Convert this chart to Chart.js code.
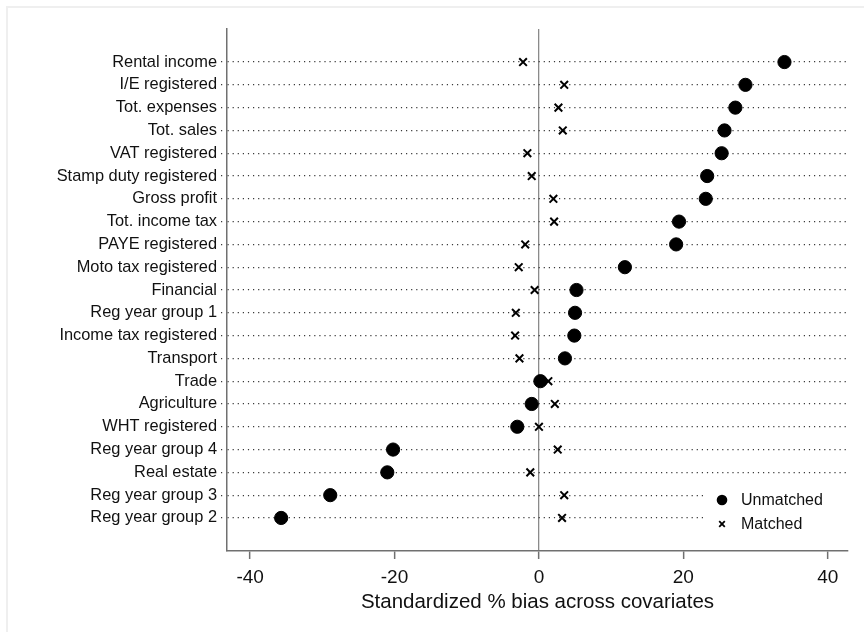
<!DOCTYPE html>
<html>
<head>
<meta charset="utf-8">
<script src="https://cdn.jsdelivr.net/npm/chart.js@4.4.1/dist/chart.umd.min.js"></script>
<style>
  html, body { margin: 0; padding: 0; background: #ffffff; }
  #wrap { position: relative; width: 864px; height: 632px; overflow: hidden; }
  #frame { position: absolute; left: 6px; top: 6px; width: 900px; height: 700px;
           border-left: 2px solid #efefef; border-top: 2px solid #efefef; pointer-events: none; }
  canvas { display: block; }
</style>
</head>
<body>
<div id="wrap">
  <canvas id="chart" width="864" height="632"></canvas>
  <div id="frame"></div>
</div>
<script>
// Covariates, top to bottom
const categories = [
  "Rental income", "I/E registered", "Tot. expenses", "Tot. sales",
  "VAT registered", "Stamp duty registered", "Gross profit", "Tot. income tax",
  "PAYE registered", "Moto tax registered", "Financial", "Reg year group 1",
  "Income tax registered", "Transport", "Trade", "Agriculture",
  "WHT registered", "Reg year group 4", "Real estate", "Reg year group 3",
  "Reg year group 2"
];

// Standardized % bias before matching
const unmatched = [34.0, 28.6, 27.2, 25.7, 25.3, 23.3, 23.1, 19.4, 19.0, 11.9,
                   5.2, 5.0, 4.9, 3.6, 0.2, -1.0, -3.0, -20.2, -21.0, -28.9, -35.7];

// Standardized % bias after matching
const matched = [-2.2, 3.5, 2.7, 3.3, -1.6, -1.0, 2.0, 2.1, -1.9, -2.8,
                 -0.6, -3.2, -3.3, -2.7, 1.3, 2.2, 0.0, 2.6, -1.2, 3.5, 3.2];

const xTicks = [-40, -20, 0, 20, 40];
const xTitle = "Standardized % bias across covariates";
const seriesNames = ["Unmatched", "Matched"];

const FONT = "'Liberation Sans', Arial, Helvetica, sans-serif";
const INK = "#111111";
const AXIS = "#707070";
const DOTS = [1.2, 3.9];

// Legend drawn inside the plot, in the lower right corner, on a white box
const insideLegend = {
  id: "insideLegend",
  afterDatasetsDraw(chart) {
    const { ctx, chartArea } = chart;
    const right = chartArea.right - 2;
    const bottom = chartArea.bottom - 14;
    const left = right - 140;
    const top = bottom - 50;
    ctx.save();
    ctx.fillStyle = "#ffffff";
    ctx.fillRect(left, top, right - left, bottom - top);
    const rows = [top + 13, top + 37];
    const mx = left + 16;
    ctx.fillStyle = "#000";
    ctx.strokeStyle = "#000";
    // filled dot
    ctx.beginPath();
    ctx.arc(mx, rows[0], 5.3, 0, Math.PI * 2);
    ctx.fill();
    // small x
    ctx.lineWidth = 1.8;
    const d = 2.8;
    ctx.beginPath();
    ctx.moveTo(mx - d, rows[1] - d); ctx.lineTo(mx + d, rows[1] + d);
    ctx.moveTo(mx - d, rows[1] + d); ctx.lineTo(mx + d, rows[1] - d);
    ctx.stroke();
    ctx.fillStyle = INK;
    ctx.font = "16px " + FONT;
    ctx.textBaseline = "middle";
    ctx.textAlign = "left";
    ctx.fillText(seriesNames[0], left + 35, rows[0] + 1);
    ctx.fillText(seriesNames[1], left + 35, rows[1] + 1);
    ctx.restore();
  }
};

new Chart(document.getElementById("chart"), {
  type: "scatter",
  data: {
    datasets: [
      {
        label: seriesNames[0],
        data: unmatched.map((v, i) => ({ x: v, y: i })),
        pointStyle: "circle",
        pointRadius: 6.6,
        pointBorderWidth: 1,
        backgroundColor: "#000",
        borderColor: "#000",
        order: 1
      },
      {
        label: seriesNames[1],
        data: matched.map((v, i) => ({ x: v, y: i })),
        pointStyle: "crossRot",
        pointRadius: 5.4,
        pointBorderWidth: 2,
        backgroundColor: "#000",
        borderColor: "#000",
        order: 0
      }
    ]
  },
  options: {
    responsive: false,
    animation: false,
    devicePixelRatio: 1,
    layout: { padding: { top: 29, right: 16, left: 0, bottom: 0 } },
    plugins: {
      legend: { display: false },
      tooltip: { enabled: false }
    },
    scales: {
      x: {
        type: "linear",
        min: -43.2,
        max: 42.8,
        afterBuildTicks(scale) { scale.ticks = xTicks.map(v => ({ value: v })); },
        afterFit(scale) { scale.height = 81; },
        border: { display: true, color: AXIS, width: 1.5 },
        grid: {
          drawOnChartArea: true,
          color: ctx => (ctx.tick && ctx.tick.value === 0) ? "#8a8a8a" : "rgba(0,0,0,0)",
          lineWidth: 1.3,
          drawTicks: true,
          tickLength: 8,
          tickColor: AXIS,
          tickWidth: 1.5
        },
        ticks: {
          color: INK,
          font: { family: FONT, size: 19 },
          padding: 7,
          maxRotation: 0,
          autoSkip: false
        },
        title: {
          display: true,
          text: xTitle,
          color: INK,
          font: { family: FONT, size: 20.5 },
          padding: { top: 2, bottom: 17 }
        }
      },
      y: {
        type: "linear",
        reverse: true,
        min: -1.45,
        max: categories.length - 1 + 1.45,
        afterBuildTicks(scale) { scale.ticks = categories.map((_, i) => ({ value: i })); },
        afterFit(scale) { scale.width = 227; },
        border: { display: true, color: AXIS, width: 1.5, dash: DOTS },
        grid: {
          drawOnChartArea: true,
          color: "#3a3a3a",
          lineWidth: 1.2,
          tickBorderDash: DOTS,
          drawTicks: true,
          tickLength: 6,
          tickColor: "#3a3a3a"
        },
        ticks: {
          color: INK,
          font: { family: FONT, size: 16.4 },
          padding: 4,
          autoSkip: false,
          callback: v => categories[v]
        }
      }
    }
  },
  plugins: [insideLegend]
});
</script>
</body>
</html>
